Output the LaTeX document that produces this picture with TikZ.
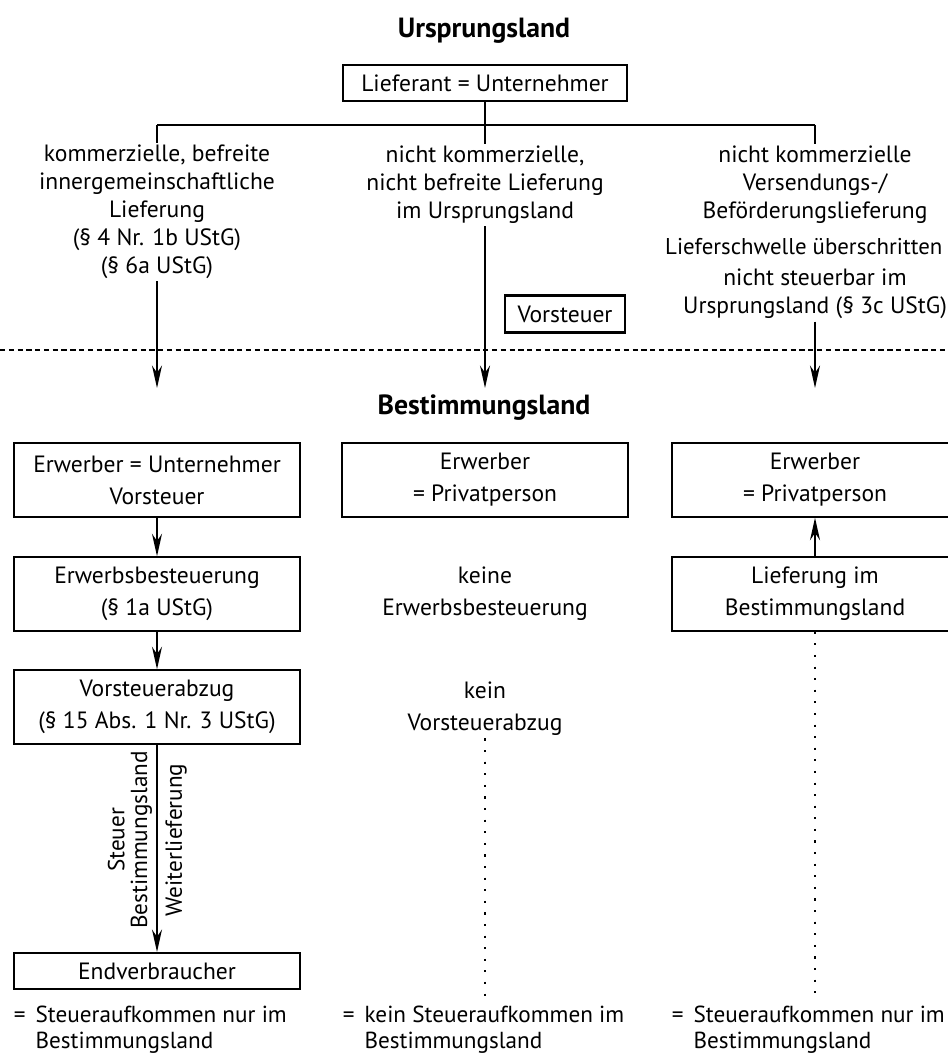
\documentclass[tikz,border=0pt]{standalone}
\usepackage{fontspec}
\setmainfont{PT Sans}
\usetikzlibrary{arrows.meta}
\tikzset{every picture/.style={x=0.02cm, y=-0.02cm, line width=1pt, >={Stealth[length=0.45cm, width=0.2cm]}},
  box/.style={draw, line width=1.15pt, minimum width=5.72cm, minimum height=1.47cm, align=center, inner sep=2pt, font=\fontsize{13.4}{18.2}\selectfont},
  smallbox/.style={draw, line width=1.15pt, align=center, inner sep=3pt, font=\fontsize{13.4}{16}\selectfont},
  branch/.style={align=center, inner sep=1pt, font=\fontsize{13.4}{15.9}\selectfont},
  free/.style={align=center, inner sep=1pt, font=\fontsize{13.4}{18.2}\selectfont},
  heading/.style={inner sep=1pt, font=\fontsize{15.8}{17}\selectfont\bfseries},
  sidelabel/.style={rotate=90, align=center, inner sep=1pt, font=\fontsize{13.2}{13}\selectfont},
  dots/.style={dash pattern=on 1.2pt off 5.4pt},
  foot/.style={anchor=west, align=left, inner sep=0pt, font=\fontsize{13.2}{14.8}\selectfont}
}

\begin{document}
\begin{tikzpicture}
        \useasboundingbox (0, 0) rectangle (947, 1053);

        % Ursprungsland
        \node[heading] (ursp) at (484, 31) {Ursprungsland};
        \node[smallbox, minimum width=5.7cm, minimum height=0.72cm] (lief) at (485, 83) {Lieferant = Unternehmer};
        \node[branch] (t1) at (157, 212) {kommerzielle, befreite\\innergemeinschaftliche\\Lieferung\\(§ 4 Nr. 1b UStG)\\(§ 6a UStG)};
        \node[branch] (t2) at (485, 185) {nicht kommerzielle,\\nicht befreite Lieferung\\im Ursprungsland};
        \node[branch] (t3) at (815, 185) {nicht kommerzielle\\Versendungs-/\\Beförderungslieferung};
        \node[branch, anchor=east, font=\fontsize{13}{15.9}\selectfont] (t3b) at (945, 247) {Lieferschwelle überschritten};
        \node[branch] (t3c) at (815, 294) {nicht steuerbar im\\Ursprungsland (§ 3c UStG)};
        \node[smallbox, minimum width=2.4cm, minimum height=0.74cm] (vst) at (565, 314) {Vorsteuer};

        \coordinate (jl) at (157, 125);
        \coordinate (jm) at (485, 125);
        \coordinate (jr) at (815, 125);
        \coordinate (a1) at (157, 388);
        \coordinate (a2) at (485, 388);
        \coordinate (a3) at (815, 388);
        \coordinate (dl) at (0, 350);
        \coordinate (dr) at (947, 350);

        % Bestimmungsland
        \node[heading] (best) at (484, 408) {Bestimmungsland};
        \node[box] (e1) at (157, 480) {Erwerber = Unternehmer\\Vorsteuer};
        \node[box] (e2) at (485, 480) {Erwerber\\= Privatperson};
        \node[box] (e3) at (815, 480) {Erwerber\\= Privatperson};
        \node[box] (b1) at (157, 594) {Erwerbsbesteuerung\\(§ 1a UStG)};
        \node[free] (k2) at (485, 594) {keine\\Erwerbsbesteuerung};
        \node[box] (b3) at (815, 594) {Lieferung im\\Bestimmungsland};
        \node[box] (v1) at (157, 707) {Vorsteuerabzug\\(§ 15 Abs. 1 Nr. 3 UStG)};
        \node[free] (k3) at (485, 709) {kein\\Vorsteuerabzug};
        \node[smallbox, minimum width=5.72cm, minimum height=0.72cm] (endv) at (157, 971) {Endverbraucher};
        \node[sidelabel] (s1) at (130, 840) {Steuer\\Bestimmungsland};
        \node[sidelabel] (s2) at (176, 840) {Weiterlieferung};

        \coordinate (d2) at (485, 997);
        \coordinate (d3) at (815, 997);

        \node[foot] (f1) at (13, 1030) {=\ \,Steueraufkommen nur im\\\phantom{=\ \,}Bestimmungsland};
        \node[foot] (f2) at (342, 1030) {=\ \,kein Steueraufkommen im\\\phantom{=\ \,}Bestimmungsland};
        \node[foot] (f3) at (671, 1030) {=\ \,Steueraufkommen nur im\\\phantom{=\ \,}Bestimmungsland};

        \draw[dashed, dash pattern=on 3pt off 2pt] (dl) -- (dr);
        \draw (lief) -- (t2);
        \draw (jl) -- (jr);
        \draw (jl) -- (t1);
        \draw (jr) -- (t3);

        \foreach \from/\to in {
          t1/a1, t2/a2, t3c/a3,
          e1/b1, b1/v1, v1/endv,
          b3/e3}
        \draw[->] (\from) -- (\to);

        \foreach \from/\to in {k3/d2, b3/d3}
        \draw[dots] (\from) -- (\to);
      \end{tikzpicture}
\end{document}
